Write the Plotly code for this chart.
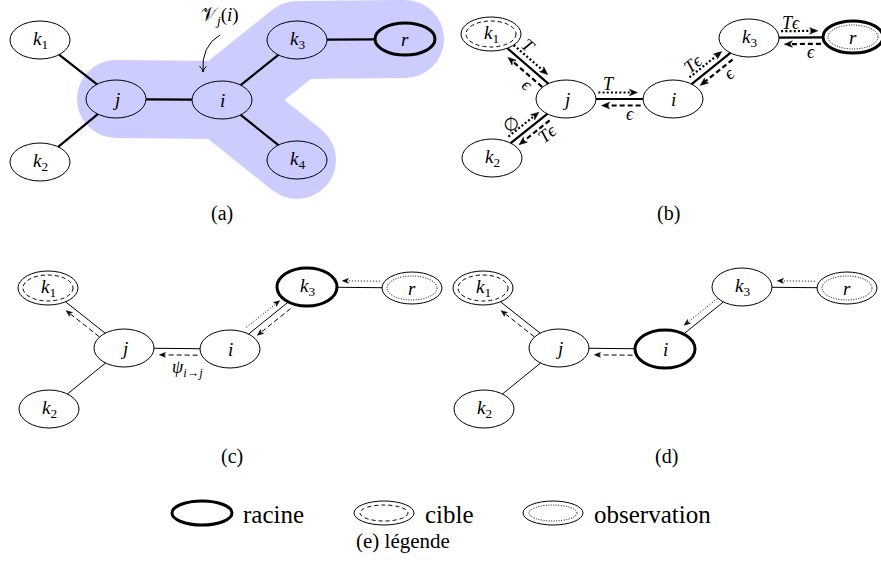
import numpy as np
import plotly.graph_objects as go

W, H = 881, 571

# ---------------- node layouts for the four trees ----------------
pos_a = {"k1": (40, 40), "k2": (40, 162), "j": (116, 99), "i": (222, 100),
         "k3": (297, 40), "k4": (297, 160), "r": (405, 39)}
pos_b = {"k1": (491, 34), "k2": (492, 158), "j": (566, 99), "i": (673, 99),
         "k3": (749, 38), "r": (853, 37)}
pos_c = {"k1": (48, 288), "k2": (49, 409), "j": (124, 348), "i": (230, 349),
         "k3": (307, 287), "r": (412, 288)}
pos_d = {"k1": (483, 288), "k2": (484, 409), "j": (559, 348), "i": (665, 349),
         "k3": (742, 287), "r": (847, 288)}

edges_a = [("k1", "j"), ("k2", "j"), ("j", "i"), ("i", "k3"), ("i", "k4"), ("k3", "r")]
edges_bcd = [("k1", "j"), ("k2", "j"), ("j", "i"), ("i", "k3"), ("k3", "r")]

# neighbourhood V_j(i) highlighted in tree (a)
hull_a = [("j", "i"), ("i", "k3"), ("k3", "r"), ("i", "k4")]

# messages: (source, destination, style, side, label)
msgs_b = [
    ("k1", "j", "dot", 1, "<i>T</i>"),
    ("j", "k1", "dash", 1, "<i>ϵ</i>"),
    ("k2", "j", "dot", 1, "∅"),
    ("j", "k2", "dash", 1, "<i>Tϵ</i>"),
    ("j", "i", "dot", 1, "<i>T</i>"),
    ("i", "j", "dash", 1, "<i>ϵ</i>"),
    ("i", "k3", "dot", 1, "<i>Tϵ</i>"),
    ("k3", "i", "dash", 1, "<i>ϵ</i>"),
    ("k3", "r", "dot", 1, "<i>Tϵ</i>"),
    ("r", "k3", "dash", 1, "<i>ϵ</i>"),
]
msgs_c = [
    ("j", "k1", "dash", 1, ""),
    ("i", "j", "dash", 1, "<i>ψ</i><sub><i>i</i>→<i>j</i></sub>"),
    ("i", "k3", "dot", 1, ""),
    ("k3", "i", "dash", 1, ""),
    ("r", "k3", "dot", -1, ""),
]
msgs_d = [
    ("j", "k1", "dash", 1, ""),
    ("i", "j", "dash", 1, ""),
    ("k3", "i", "dot", -1, ""),
    ("r", "k3", "dot", -1, ""),
]

node_text = {"k1": "<i>k</i><sub>1</sub>", "k2": "<i>k</i><sub>2</sub>",
             "k3": "<i>k</i><sub>3</sub>", "k4": "<i>k</i><sub>4</sub>",
             "j": "<i>j</i>", "i": "<i>i</i>", "r": "<i>r</i>"}

captions = ["(a)", "(b)", "(c)", "(d)"]
caption_pos = [(222, 213), (668, 213), (232, 456), (666, 456)]

legend_labels = ["racine", "cible", "observation"]
legend_caption = "(e) légende"

panels = [
    dict(pos=pos_a, edges=edges_a, root="r", target=None, obs=None, msgs=[],
         ew=2.2, mw=2.2, head=(8, 3.2)),
    dict(pos=pos_b, edges=edges_bcd, root="r", target="k1", obs="r", msgs=msgs_b,
         ew=2.2, mw=2.2, head=(8, 3.2)),
    dict(pos=pos_c, edges=edges_bcd, root="k3", target="k1", obs="r", msgs=msgs_c,
         ew=1.0, mw=1.0, head=(6, 2.4)),
    dict(pos=pos_d, edges=edges_bcd, root="i", target="k1", obs="r", msgs=msgs_d,
         ew=1.0, mw=1.0, head=(6, 2.4)),
]

SERIF = "Liberation Serif, DejaVu Serif, serif"
INK = "#000000"
HALO = "#ccccff"

shapes = []
annotations = []


def radii(name, panel):
    if name == "r":
        return 30.0, 16.0
    if name == panel["target"]:
        return 30.0, 17.0
    return 30.0, 19.0


def boundary(c, rxy, d):
    rx, ry = rxy
    t = 1.0 / np.sqrt((d[0] / rx) ** 2 + (d[1] / ry) ** 2)
    return c + t * d


def edge_points(panel, a, b):
    P = panel["pos"]
    ca, cb = np.array(P[a], float), np.array(P[b], float)
    d = (cb - ca) / np.linalg.norm(cb - ca)
    return boundary(ca, radii(a, panel), d), boundary(cb, radii(b, panel), -d), d


def ellipse(cx, cy, rx, ry, width=1.0, dash="solid"):
    shapes.append(dict(type="circle", xref="x", yref="y",
                       x0=cx - rx, x1=cx + rx, y0=cy - ry, y1=cy + ry,
                       line=dict(color=INK, width=width, dash=dash)))


def segment(p, q, width, dash="solid"):
    shapes.append(dict(type="line", xref="x", yref="y",
                       x0=p[0], y0=p[1], x1=q[0], y1=q[1],
                       line=dict(color=INK, width=width, dash=dash)))


def arrow_tip(tip, d, length, half):
    n = np.array([-d[1], d[0]])
    back = tip - length * d
    c1, c2 = back + half * n, back - half * n
    notch = tip - 0.7 * length * d
    path = "M {:.2f} {:.2f} L {:.2f} {:.2f} L {:.2f} {:.2f} L {:.2f} {:.2f} Z".format(
        tip[0], tip[1], c1[0], c1[1], notch[0], notch[1], c2[0], c2[1])
    shapes.append(dict(type="path", xref="x", yref="y", path=path,
                       fillcolor=INK, line=dict(color=INK, width=0.6)))


def label(x, y, text, size=18, angle=0):
    annotations.append(dict(x=x, y=y, xref="x", yref="y", text=text, showarrow=False,
                            textangle=angle, font=dict(family=SERIF, size=size, color=INK),
                            xanchor="center", yanchor="middle"))


# ---- highlighted neighbourhood in tree (a) ----
R_HALO = 39
for a, b in hull_a:
    ca, cb = np.array(pos_a[a], float), np.array(pos_a[b], float)
    d = (cb - ca) / np.linalg.norm(cb - ca)
    n = np.array([-d[1], d[0]]) * R_HALO
    pts = [ca + n, cb + n, cb - n, ca - n]
    path = "M " + " L ".join("{:.2f} {:.2f}".format(p[0], p[1]) for p in pts) + " Z"
    shapes.append(dict(type="path", xref="x", yref="y", path=path,
                       fillcolor=HALO, line=dict(width=0)))
for name in ["j", "i", "k3", "r", "k4"]:
    cx, cy = pos_a[name]
    shapes.append(dict(type="circle", xref="x", yref="y",
                       x0=cx - R_HALO, x1=cx + R_HALO, y0=cy - R_HALO, y1=cy + R_HALO,
                       fillcolor=HALO, line=dict(width=0)))

# ---- trees ----
for panel in panels:
    P = panel["pos"]
    for a, b in panel["edges"]:
        pa, pb, _ = edge_points(panel, a, b)
        segment(pa, pb, panel["ew"])

    big = panel["mw"] > 1.5
    dot_dash = "2px,2.2px" if big else "1px,2px"
    dash_dash = "5px,3px"
    hl, hw = panel["head"]
    for src, dst, style, side, text in panel["msgs"]:
        ps, pt, d = edge_points(panel, src, dst)
        L = np.linalg.norm(pt - ps)
        n = side * np.array([d[1], -d[0]])
        off = 6.5
        start = ps + 0.05 * L * d + off * n
        tip = ps + 0.88 * L * d + off * n
        segment(start, tip - 0.6 * hl * d, panel["mw"],
                dot_dash if style == "dot" else dash_dash)
        arrow_tip(tip, d, hl, hw)
        if text:
            ang = np.degrees(np.arctan2(d[1], d[0]))
            if ang > 90:
                ang -= 180
            if ang < -90:
                ang += 180
            lab_off = 20 if "ψ" in text else 15
            q = ps + 0.27 * L * d + lab_off * n
            label(q[0], q[1], text, size=18, angle=0 if abs(ang) < 1 else ang)

    for name, (cx, cy) in P.items():
        rx, ry = radii(name, panel)
        thick = name == panel["root"]
        ellipse(cx, cy, rx, ry, width=3.0 if thick else 1.0)
        if name == panel["target"]:
            ellipse(cx, cy, rx - 5, ry - 4, width=1.0, dash="4px,3px")
        if name == panel["obs"]:
            ellipse(cx, cy, rx - 5, ry - 4, width=1.0, dash="1px,1.5px")
        label(cx, cy, node_text[name], size=19)

# neighbourhood annotation with its curved pointer
label(220, 16, "𝒱<sub><i>j</i></sub>(<i>i</i>)", size=19)
shapes.append(dict(type="path", xref="x", yref="y",
                   path="M 220 35 Q 201 46 203 72",
                   line=dict(color=INK, width=1.0)))
shapes.append(dict(type="path", xref="x", yref="y",
                   path="M 199.5 66 Q 202.5 68.5 203 72 Q 203.8 68.5 206.5 66.3",
                   line=dict(color=INK, width=1.0)))

# ---- captions ----
for txt, (x, y) in zip(captions, caption_pos):
    label(x, y, txt, size=20)

# ---- legend ----
legend_ellipses = [(202, 513), (384, 513), (553, 513)]
for k, ((cx, cy), txt) in enumerate(zip(legend_ellipses, legend_labels)):
    if k == 0:
        ellipse(cx, cy, 30, 12, width=3.0)
    else:
        ellipse(cx, cy, 30, 12, width=1.0)
        ellipse(cx, cy, 24, 8, width=1.0, dash="4px,3px" if k == 1 else "1px,1.5px")
    annotations.append(dict(x=cx + 39, y=cy + 1, xref="x", yref="y", text=txt,
                            showarrow=False, xanchor="left", yanchor="middle",
                            font=dict(family=SERIF, size=25, color=INK)))
label(403, 541, legend_caption, size=21)

fig = go.Figure()
fig.update_layout(
    width=W, height=H, margin=dict(l=0, r=0, t=0, b=0, pad=0),
    paper_bgcolor="white", plot_bgcolor="white", showlegend=False,
    xaxis=dict(range=[0, W], visible=False, fixedrange=True),
    yaxis=dict(range=[H, 0], visible=False, fixedrange=True),
    shapes=shapes, annotations=annotations,
)
fig.write_html("out.html")
